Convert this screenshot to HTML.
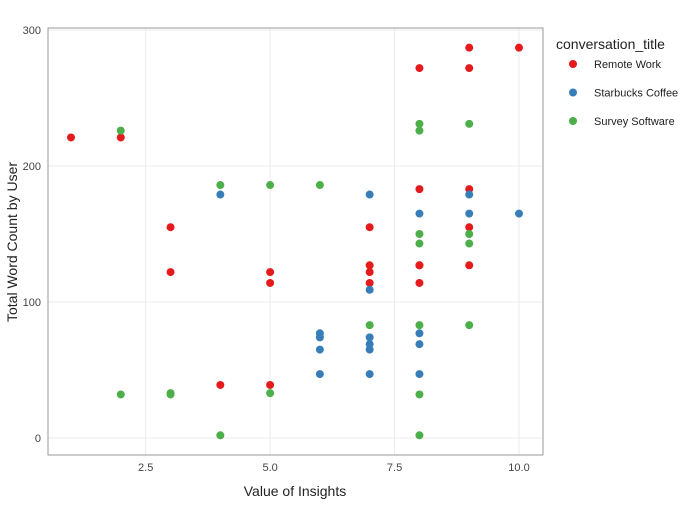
<!DOCTYPE html>
<html><head><meta charset="utf-8">
<style>
body{margin:0;background:#fff;font-family:"Liberation Sans",sans-serif;}
svg text{font-family:"Liberation Sans",sans-serif;}
</style></head>
<body>
<svg id="chart" width="700" height="500">
</svg>
<script>
const xTicks=[2.5,5.0,7.5,10.0];
const xTickLabels=["2.5","5.0","7.5","10.0"];
const yTicks=[0,100,200,300];
const yTickLabels=["0","100","200","300"];
const seriesNames=["Remote Work","Starbucks Coffee","Survey Software"];
const seriesColors=["#e41a1c","#377eb8","#4daf4a"];
const remoteX=[1,2,3,3,4,5,5,5,7,7,7,7,8,8,8,8,8,9,9,9,9,9,10];
const remoteY=[221,221,155,122,39,122,114,39,155,127,122,114,272,183,127,127,114,287,272,183,155,127,287];
const starbucksX=[4,6,6,6,6,7,7,7,7,7,7,8,8,8,8,9,9,10];
const starbucksY=[179,77,74,65,47,179,109,74,69,65,47,165,77,69,47,179,165,165];
const surveyX=[2,2,3,3,4,4,5,5,6,7,8,8,8,8,8,8,8,9,9,9,9];
const surveyY=[226,32,33,32,186,2,186,33,186,83,231,226,150,143,83,32,2,231,150,143,83];

const NS="http://www.w3.org/2000/svg";
const svg=document.getElementById('chart');
const L=48,R=543,T=28,B=455;
function xs(v){return 71+(v-1)*(519-71)/9;}
function ys(v){return 438-v*1.36;}
function mk(tag,attrs,parent){const e=document.createElementNS(NS,tag);for(const k in attrs)e.setAttribute(k,attrs[k]);(parent||svg).appendChild(e);return e;}

const grid=mk('g',{});


xTicks.forEach((t,i)=>{
  mk('line',{x1:xs(t),x2:xs(t),y1:T,y2:B,stroke:'#ebebeb','stroke-width':1},grid);
  const tx=mk('text',{x:xs(t),y:B+16,'text-anchor':'middle','font-size':11,fill:'#444'});
  tx.textContent=xTickLabels[i];
  
  
});
yTicks.forEach((t,i)=>{
  mk('line',{x1:L,x2:R,y1:ys(t),y2:ys(t),stroke:'#ebebeb','stroke-width':1},grid);
  const tx=mk('text',{x:L-7,y:ys(t)+4,'text-anchor':'end','font-size':11,fill:'#444'});
  tx.textContent=yTickLabels[i];
  
  
});
const frame=mk('rect',{x:L,y:T,width:R-L,height:B-T,fill:'none',stroke:'#999','stroke-width':1});



const data=[[remoteX,remoteY],[starbucksX,starbucksY],[surveyX,surveyY]];
data.forEach((d,s)=>{
  const g=mk('g',{});
  
  
  d[0].forEach((x,i)=>{
    const c=mk('circle',{cx:xs(x),cy:ys(d[1][i]),r:4,fill:seriesColors[s]},g);
    
    
  });
});

const xt=mk('text',{x:295,y:496,'text-anchor':'middle','font-size':14,fill:'#222'});
xt.textContent='Value of Insights';


const yt=mk('text',{x:17,y:242,'text-anchor':'middle','font-size':14,fill:'#222',transform:'rotate(-90 17 242)'});
yt.textContent='Total Word Count by User';



const lg=mk('g',{});


const lt=mk('text',{x:556,y:49,'font-size':14,fill:'#222'},lg);
lt.textContent='conversation_title';


seriesNames.forEach((n,i)=>{
  const y=64+i*28.5;
  const e=mk('g',{},lg);
  
  
  mk('circle',{cx:573,cy:y,r:4,fill:seriesColors[i]},e);
  const t=mk('text',{x:594,y:y+4,'font-size':11,fill:'#222'},e);
  t.textContent=n;
});
</script>
</body></html>
